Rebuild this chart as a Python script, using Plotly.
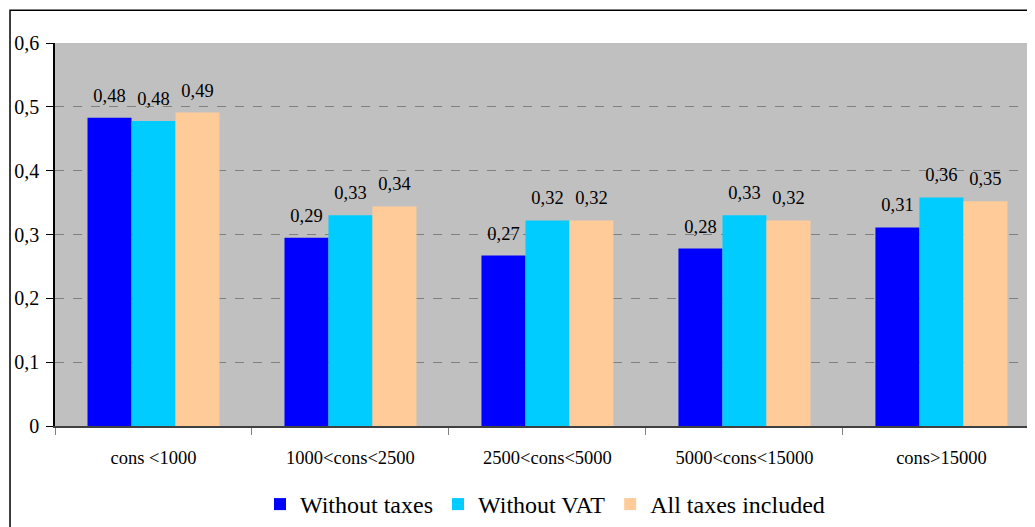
import plotly.graph_objects as go

categories = ["cons <1000", "1000<cons<2500", "2500<cons<5000", "5000<cons<15000", "cons>15000"]
without_taxes = [0.483, 0.295, 0.267, 0.278, 0.311]
without_vat = [0.478, 0.330, 0.322, 0.330, 0.358]
all_taxes = [0.491, 0.344, 0.322, 0.322, 0.352]
labels_taxes = ["0,48", "0,29", "0,27", "0,28", "0,31"]
labels_vat = ["0,48", "0,33", "0,32", "0,33", "0,36"]
labels_all = ["0,49", "0,34", "0,32", "0,32", "0,35"]
y_ticks = [0, 0.1, 0.2, 0.3, 0.4, 0.5, 0.6]
y_tick_text = ["0", "0,1", "0,2", "0,3", "0,4", "0,5", "0,6"]

serif = "Liberation Serif"

fig = go.Figure()
series = [
    ("Without taxes", without_taxes, labels_taxes, "#0000FF"),
    ("Without VAT", without_vat, labels_vat, "#00CCFF"),
    ("All taxes included", all_taxes, labels_all, "#FFCC99"),
]
# big invisible no-break spaces on both sides push the label up off the bar
pad = "<span style='font-size:58px'>\u00a0</span>"
for name, vals, txt, color in series:
    fig.add_trace(go.Bar(
        x=categories, y=vals, name=name, text=[pad + t + pad for t in txt],
        textposition="outside", constraintext="none", cliponaxis=False,
        textfont=dict(family=serif, size=18.5, color="black"),
        marker=dict(color=color, line=dict(width=0)),
    ))

# outer chart border (partly off-screen like the reference)
fig.add_shape(type="rect", xref="paper", yref="paper",
              x0=-0.0459, x1=1.02, y0=-0.35, y1=1.0857,
              line=dict(color="black", width=1.5), layer="below")

fig.update_layout(
    width=1027, height=519,
    margin=dict(l=47, r=0, t=35, b=99),
    paper_bgcolor="white",
    plot_bgcolor="#C0C0C0",
    barmode="group",
    bargap=0.33,
    bargroupgap=0,
    font=dict(family=serif, color="black"),
    showlegend=True,
    legend=dict(orientation="h", x=0.5, xanchor="center", y=-0.205, yanchor="middle",
                font=dict(family=serif, size=24), tracegroupgap=0),
    xaxis=dict(range=[-0.5, 4.475], showgrid=False, showline=True, linecolor="#404040", linewidth=2,
               ticks="outside", tickcolor="#808080", ticklen=7, tickson="boundaries",
               ticklabelstandoff=14,
               tickfont=dict(family=serif, size=18.5), zeroline=False, automargin=False),
    yaxis=dict(range=[0, 0.6], tickvals=y_ticks, ticktext=y_tick_text,
               showgrid=True, gridcolor="#808080", griddash="dash", gridwidth=1,
               showline=True, linecolor="black", linewidth=1.5,
               ticks="outside", ticklen=7, tickcolor="black", ticklabelstandoff=3,
               tickfont=dict(family=serif, size=20), zeroline=False, automargin=False),
)

fig.write_html("out.html")
